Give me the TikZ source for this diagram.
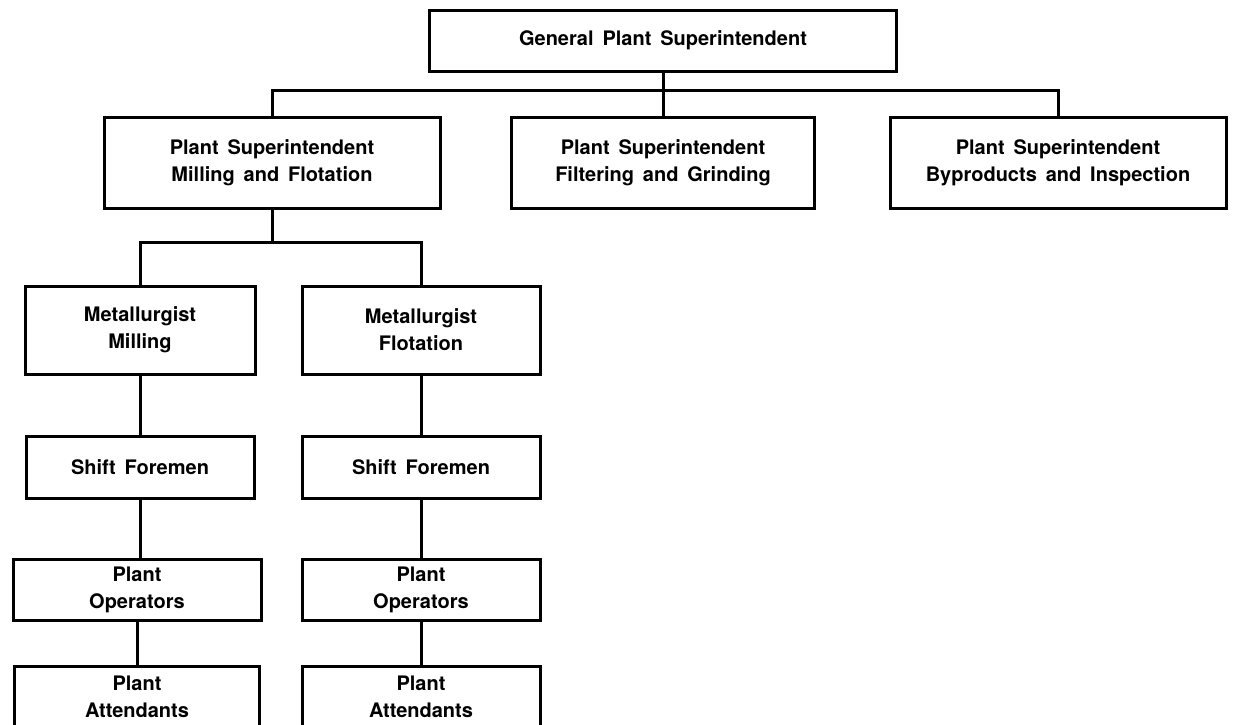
\documentclass[tikz,border=0pt]{standalone}
\usepackage{fontspec}
\setmainfont[WordSpace=1.6]{TeX Gyre Heros}
\tikzset{
  box/.style={draw, line width=1.5pt, align=center, inner sep=0pt,
    font=\bfseries\fontsize{10}{13.5}\selectfont},
  link/.style={line width=1.5pt}
}
\begin{document}
\begin{tikzpicture}[x=0.5pt, y=-0.5pt]
    \useasboundingbox (0,0) rectangle (1237,724);
    % Livello 1
    \node[box, minimum width=233.5pt, minimum height=30.5pt] (gps) at (663,40.5) {General Plant Superintendent};
    % Livello 2
    \node[box, minimum width=168pt, minimum height=45.5pt] (psmf) at (272,162.5) {Plant Superintendent\\Milling and Flotation};
    \node[box, minimum width=151.5pt, minimum height=45.5pt] (psfg) at (663,162.5) {Plant Superintendent\\Filtering and Grinding};
    \node[box, minimum width=168pt, minimum height=45.5pt] (psbi) at (1058,162.5) {Plant Superintendent\\Byproducts and Inspection};
    % Metallurgisti
    \node[box, minimum width=115pt, minimum height=44pt] (mm) at (140,330) {Metallurgist\\Milling};
    \node[box, minimum width=119pt, minimum height=44pt] (mf) at (421,330) {Metallurgist\\Flotation};
    % Capiturno
    \node[box, minimum width=114pt, minimum height=31pt] (sfm) at (140,467) {Shift Foremen};
    \node[box, minimum width=119pt, minimum height=31pt] (sff) at (421,467) {Shift Foremen};
    % Operatori
    \node[box, minimum width=124pt, minimum height=30.5pt] (pom) at (137,589.5) {Plant\\Operators};
    \node[box, minimum width=119pt, minimum height=30.5pt] (pof) at (421,589.5) {Plant\\Operators};
    % Addetti
    \node[box, minimum width=122.5pt, minimum height=31pt] (pam) at (137,697) {Plant\\Attendants};
    \node[box, minimum width=119pt, minimum height=31pt] (paf) at (421,697) {Plant\\Attendants};
    % Collegamenti
    \coordinate (bus1) at (663,90);
    \coordinate (bus2) at (272,242);
    \draw[link] (gps) -- (psfg);
    \draw[link] (psmf.north) |- (bus1) -| (psbi.north);
    \draw[link] (psmf) -- (bus2);
    \draw[link] (mm.north) |- (bus2) -| (mf.north);
    \draw[link] (mm) -- (sfm);
    \draw[link] (sfm.south) -- (sfm.south |- pom.north);
    \draw[link] (pom) -- (pam);
    \draw[link] (mf) -- (sff);
    \draw[link] (sff) -- (pof);
    \draw[link] (pof) -- (paf);
\end{tikzpicture}
\end{document}
